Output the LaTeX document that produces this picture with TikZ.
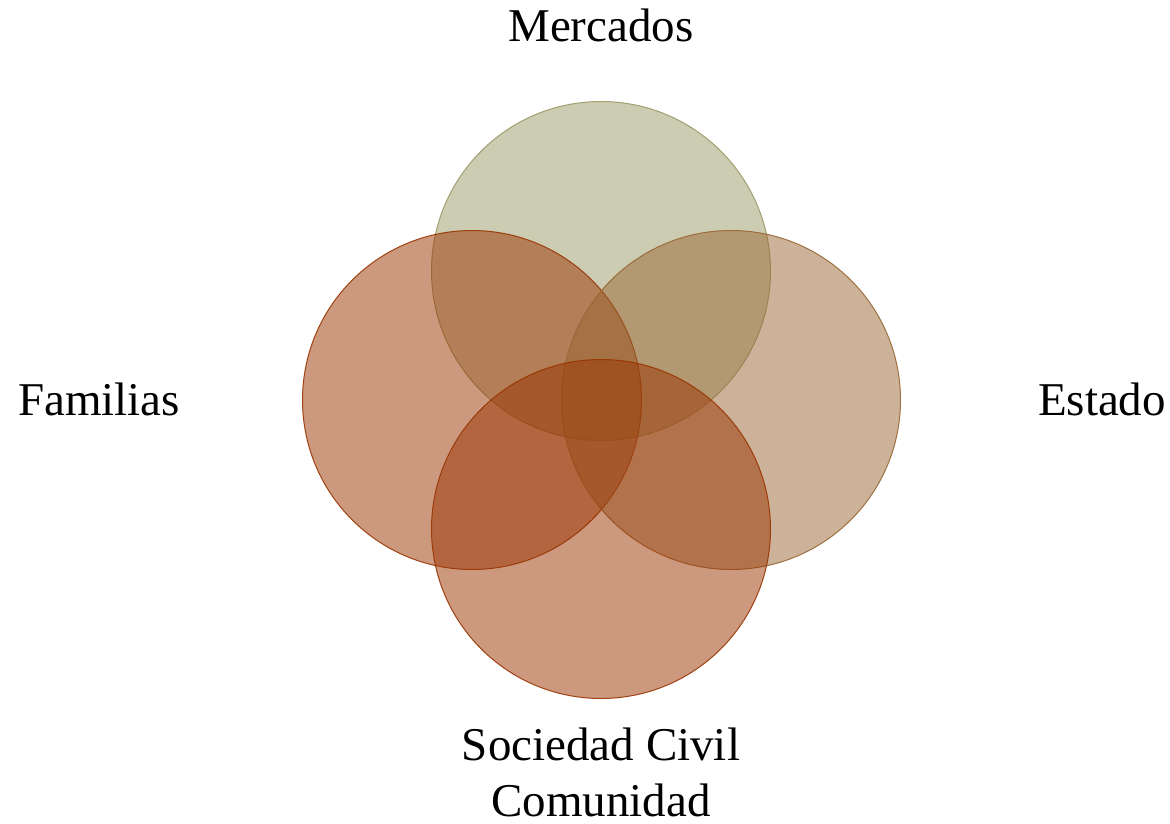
\documentclass[tikz,border=0pt]{standalone}
\usepackage{fontspec}
\setmainfont{Liberation Serif}
\definecolor{olivec}{HTML}{999966}
\definecolor{rustc}{HTML}{993300}
\definecolor{brownc}{HTML}{996633}
\tikzset{
  circ/.style={circle, minimum size=339pt, inner sep=0pt, line width=1pt, fill opacity=0.5, draw opacity=0.9},
  lbl/.style={font=\fontsize{47}{56}\selectfont, inner sep=0pt, anchor=base, align=center}
}
\begin{document}
\begin{tikzpicture}[x=1pt,y=-1pt]
\useasboundingbox (0,0) rectangle (1170,824);
\node[circ, draw=olivec, fill=olivec] (mer) at (601,271) {};
\node[circ, draw=rustc, fill=rustc] (fam) at (472,400) {};
\node[circ, draw=brownc, fill=brownc] (est) at (731,400) {};
\node[circ, draw=rustc, fill=rustc] (soc) at (601,529) {};
\node[lbl] (tmer) at (601,42) {Mercados};
\node[lbl] (tfam) at (99,415) {Familias};
\node[lbl] (test) at (1102,415) {Estado};
\node[lbl, anchor=north] (tsoc) at (601,728) {Sociedad Civil\\Comunidad};
\end{tikzpicture}
\end{document}
